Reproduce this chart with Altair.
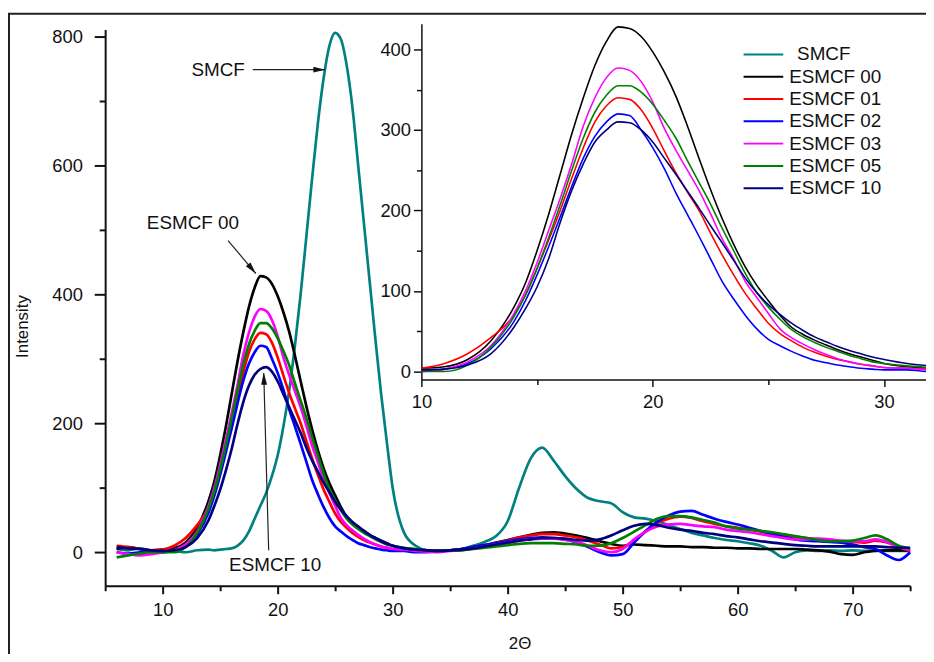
import altair as alt
import pandas as pd

FONT = "Liberation Sans"

SERIES = ["SMCF", "ESMCF 00", "ESMCF 01", "ESMCF 02", "ESMCF 03", "ESMCF 05", "ESMCF 10"]
COLORS = ["#008080", "#000000", "#ff0000", "#0000ff", "#ff00ff", "#008000", "#000080"]

TWO_THETA = [6, 7, 8, 9, 10, 11, 12, 13, 14,
             14.5, 15, 15.5, 16, 16.5, 17, 17.5, 18, 18.5, 19, 19.5, 20, 20.5, 21, 21.5, 22, 22.5,
             23, 23.5, 24, 24.5, 25, 25.5, 26, 26.5, 27, 27.5, 28, 28.5, 29, 29.5, 30,
             31, 32, 33, 34, 35, 36, 37, 38, 39, 40, 41, 42, 43, 44, 45, 46, 47, 48, 49, 50,
             51, 52, 53, 54, 55, 56, 57, 58, 59, 60, 61, 62, 63, 64, 65, 66, 67, 68, 69, 70,
             71, 72, 73, 74, 75]

SMCF = [5, 3, 6, 2, 0, 2, 0, 3, 4,
        3, 4, 5, 6, 10, 18, 32, 52, 72, 92, 118, 150, 195, 250, 320, 400, 490,
        580, 665, 735, 785, 805, 795, 755, 690, 600, 510, 420, 330, 245, 170, 100,
        30, 10, 3, 2, 3, 5, 10, 16, 25, 48, 100, 145, 162, 142, 118, 98, 84, 79, 76, 62,
        54, 52, 48, 42, 36, 30, 26, 22, 19, 17, 14, 10, 2, -8, 0, 3, 2, 3, 2, 3,
        2, 3, 2, 2, 2]

ESMCF_00 = [5, 8, 5, 3, 4, 6, 15, 38, 80,
            110, 150, 195, 245, 295, 340, 380, 410, 428, 426, 416, 397, 372, 342, 305, 265, 226,
            190, 158, 130, 107, 88, 70, 55, 46, 39, 33, 27, 22, 18, 14, 10,
            6, 4, 3, 2, 3, 5, 8, 11, 15, 19, 23, 27, 30, 31, 29, 26, 22, 17, 13, 10,
            12, 11, 10, 9, 9, 8, 8, 7, 7, 6, 6, 5, 5, 5, 5, 4, 3, 1, -3, -4,
            0, 2, 3, 3, 3]

ESMCF_01 = [10, 8, 5, 3, 4, 10, 22, 42, 70,
            95, 128, 163, 200, 240, 278, 310, 330, 340, 338, 325, 302, 274, 247, 223, 200, 172,
            145, 120, 97, 78, 60, 47, 38, 30, 24, 19, 15, 12, 9, 7, 5,
            4, 3, 2, 2, 3, 4, 7, 10, 14, 18, 23, 26, 28, 28, 26, 23, 18, 12, 6, 8,
            18, 32, 45, 52, 55, 53, 48, 44, 40, 38, 35, 32, 28, 25, 24, 22, 20, 18, 17, 16,
            15, 18, 15, 8, 2]

ESMCF_02 = [0, -2, 0, 2, 0, 3, 10, 28, 62,
            88, 120, 155, 192, 230, 265, 292, 310, 320, 318, 300, 278, 252, 222, 195, 168, 140,
            112, 90, 70, 53, 40, 32, 25, 19, 14, 11, 8, 6, 4, 3, 2,
            2, 0, 0, 2, 3, 5, 8, 11, 14, 17, 20, 22, 23, 22, 20, 15, 8, 0, -5, -3,
            15, 33, 47, 57, 63, 64, 58, 52, 47, 43, 38, 33, 28, 24, 20, 18, 17, 16, 15, 12,
            8, 5, -5, -12, 0]

ESMCF_03 = [0, -3, -5, -3, 0, 3, 12, 32, 72,
            100, 135, 175, 215, 258, 305, 340, 365, 377, 374, 360, 335, 302, 275, 250, 225, 196,
            165, 140, 112, 92, 72, 53, 42, 34, 27, 21, 16, 12, 9, 7, 5,
            4, 2, 1, 0, 2, 3, 6, 9, 12, 15, 18, 20, 21, 21, 19, 16, 10, 3, 0, 5,
            20, 32, 40, 43, 44, 42, 40, 39, 35, 33, 31, 28, 25, 22, 20, 20, 21, 20, 18, 17,
            17, 20, 16, 8, 4]

ESMCF_05 = [-8, -5, -2, 0, 0, 0, 8, 30, 68,
            95, 128, 166, 207, 250, 290, 322, 343, 355, 355, 347, 332, 312, 290, 262, 235, 208,
            178, 150, 122, 98, 80, 65, 52, 43, 36, 30, 25, 20, 16, 12, 10,
            7, 5, 3, 2, 3, 3, 5, 7, 9, 11, 13, 14, 14, 14, 13, 12, 10, 10, 14, 22,
            32, 42, 52, 56, 56, 54, 50, 46, 40, 37, 35, 33, 31, 28, 25, 22, 19, 17, 17, 18,
            22, 26, 20, 10, 6]

ESMCF_10 = [8, 6, 5, 3, 2, 3, 8, 22, 50,
            72, 97, 127, 160, 198, 232, 258, 275, 284, 287, 280, 265, 245, 225, 205, 185, 162,
            142, 125, 108, 93, 78, 66, 56, 47, 40, 33, 27, 22, 17, 13, 10,
            6, 4, 3, 2, 3, 4, 6, 9, 12, 15, 18, 20, 22, 22, 21, 19, 18, 20, 26, 34,
            41, 44, 42, 38, 35, 33, 30, 28, 25, 23, 20, 17, 15, 13, 11, 10, 9, 9, 9, 9,
            9, 9, 8, 7, 7]

# the inset shows ESMCF 10 a little higher than the main panel does
INSET_TWO_THETA = [10, 11, 12, 13, 14,
                   14.5, 15, 15.5, 16, 16.5, 17, 17.5, 18, 18.5, 19, 19.5, 20, 20.5, 21, 21.5, 22, 22.5,
                   23, 23.5, 24, 24.5, 25, 25.5, 26, 26.5, 27, 27.5, 28, 28.5, 29, 29.5, 30,
                   31, 32, 33, 34]
INSET_ESMCF_10 = [2, 3, 8, 22, 55,
                  78, 105, 140, 185, 225, 258, 285, 300, 310, 309, 300, 285, 265, 245, 224, 203, 181,
                  160, 138, 116, 98, 83, 71, 60, 51, 43, 37, 31, 26, 22, 18, 15,
                  10, 7, 5, 3]

LEGEND_INDENT = [8, 0, 0, 0, 0, 0, 0]

ANNOT_TEXT = ["SMCF", "ESMCF 00", "ESMCF 10"]
ANNOT_X = [14.83, 12.63, 19.78]
ANNOT_Y = [748, 510, -20]

ARROW_X0 = [17.84, 15.69, 19.22]
ARROW_Y0 = [748, 483, 3]
ARROW_X1 = [24.14, 18.10, 18.79]
ARROW_Y1 = [748, 432, 278]
ARROW_ANGLE = [0, 50, 268]

# ---------- tables ----------
main_values = [SMCF, ESMCF_00, ESMCF_01, ESMCF_02, ESMCF_03, ESMCF_05, ESMCF_10]
rows = []
for name, vals in zip(SERIES, main_values):
    for x, y in zip(TWO_THETA, vals):
        rows.append({"series": name, "two_theta": x, "intensity": y})
df_main = pd.DataFrame(rows)

rows = []
for name, vals in zip(SERIES[1:6], main_values[1:6]):
    for x, y in zip(TWO_THETA, vals):
        if 10 <= x <= 34:
            rows.append({"series": name, "two_theta": x, "intensity": y})
for x, y in zip(INSET_TWO_THETA, INSET_ESMCF_10):
    rows.append({"series": "ESMCF 10", "two_theta": x, "intensity": y})
df_inset = pd.DataFrame(rows)

df_annot = pd.DataFrame({"label": ANNOT_TEXT, "two_theta": ANNOT_X, "intensity": ANNOT_Y})
df_arrow = pd.DataFrame({"two_theta": ARROW_X0, "intensity": ARROW_Y0,
                         "two_theta_end": ARROW_X1, "intensity_end": ARROW_Y1,
                         "angle": ARROW_ANGLE})
df_legend = pd.DataFrame({"series": SERIES, "indent": LEGEND_INDENT})

color = alt.Color("series:N", scale=alt.Scale(domain=SERIES, range=COLORS), legend=None)

# ---------- main panel ----------
x_scale_main = alt.Scale(domain=[5, 75], nice=False, zero=False)
y_scale_main = alt.Scale(domain=[-52, 810], nice=False, zero=False)

x_main = alt.X(
    "two_theta:Q", scale=x_scale_main,
    axis=alt.Axis(
        orient="bottom", values=list(range(5, 76, 5)), title="2Θ",
        labelExpr="datum.value % 10 === 0 ? datum.label : ''",
        tickSize={"condition": {"test": "datum.value % 10 !== 0", "value": 5}, "value": 8},
        tickWidth=2, domainWidth=2, labelFontSize=18.5, labelPadding=7,
        labelFlush=False, labelOverlap=False,
        titleFontSize=17, titleFontWeight="normal", titleX=418, titleY=50,
    ),
)
y_main = alt.Y(
    "intensity:Q", scale=y_scale_main,
    axis=alt.Axis(
        orient="left", values=list(range(0, 801, 100)), title="Intensity",
        labelExpr="datum.value % 200 === 0 ? datum.label : ''",
        tickSize={"condition": {"test": "datum.value % 200 !== 0", "value": 6}, "value": 11},
        tickWidth=2, domainWidth=2, labelFontSize=18.5, labelPadding=12,
        labelFlush=False, labelOverlap=False,
        titleFontSize=17, titleFontWeight="normal", titleX=-74, titleY=299,
    ),
)

main_lines = alt.Chart(df_main).mark_line(strokeWidth=2.7, interpolate="monotone").encode(
    x=x_main, y=y_main, color=color
)
annot_text = alt.Chart(df_annot).mark_text(
    fontSize=19, font=FONT, color="#111", align="center", baseline="middle"
).encode(x=alt.X("two_theta:Q"), y=alt.Y("intensity:Q"), text="label:N")
arrow_lines = alt.Chart(df_arrow).mark_rule(color="#222", strokeWidth=1.2).encode(
    x=alt.X("two_theta:Q"), y=alt.Y("intensity:Q"),
    x2="two_theta_end:Q", y2="intensity_end:Q",
)
arrow_heads = alt.Chart(df_arrow).mark_point(
    shape="M0,0L-2,-0.5L-2,0.5Z", filled=True, size=144, color="#111", opacity=1
).encode(
    x=alt.X("two_theta_end:Q"), y=alt.Y("intensity_end:Q"),
    angle=alt.Angle("angle:Q", scale=None),
)
main_panel = alt.layer(main_lines, arrow_lines, arrow_heads, annot_text)

# ---------- inset ----------
x_inset = alt.X(
    "two_theta:Q",
    scale=alt.Scale(domain=[10, 34], range=[319, 879], nice=False, zero=False),
    axis=alt.Axis(
        orient="bottom", offset=-208, values=[10, 15, 20, 25, 30], title=None,
        labelExpr="datum.value % 10 === 0 ? datum.label : ''",
        tickSize={"condition": {"test": "datum.value % 10 !== 0", "value": 5}, "value": 7},
        tickWidth=1.5, domainWidth=1.5, labelFontSize=18.5, labelPadding=6,
        labelFlush=False, labelOverlap=False,
    ),
)
y_inset = alt.Y(
    "intensity:Q",
    scale=alt.Scale(domain=[-10, 432], range=[353, -6], nice=False, zero=False),
    axis=alt.Axis(
        orient="left", offset=-319, values=list(range(0, 401, 50)), title=None,
        labelExpr="datum.value % 100 === 0 ? datum.label : ''",
        tickSize={"condition": {"test": "datum.value % 100 !== 0", "value": 5}, "value": 8},
        tickWidth=1.5, domainWidth=1.5, labelFontSize=18.5, labelPadding=3,
        labelFlush=False, labelOverlap=False,
    ),
)
inset_lines = alt.Chart(df_inset).mark_line(strokeWidth=1.6, interpolate="monotone").encode(
    x=x_inset, y=y_inset, color=color
)

# ---------- legend (inside inset) ----------
leg_y = alt.Y("series:N", sort=SERIES,
              scale=alt.Scale(type="point", domain=SERIES, range=[25, 160], padding=0),
              axis=None)
legend_rules = alt.Chart(df_legend).mark_rule(strokeWidth=2).encode(
    x=alt.value(644), x2=alt.value(684), y=leg_y, color=color
)
legend_text = alt.Chart(df_legend).mark_text(
    align="left", baseline="middle", fontSize=19, font=FONT, color="#111"
).encode(
    x=alt.X("indent:Q", scale=alt.Scale(domain=[0, 100], range=[690, 790]), axis=None),
    y=leg_y, text="series:N",
)
legend_panel = alt.layer(legend_rules, legend_text)

# ---------- outer frame ----------
frame = alt.Chart(pd.DataFrame({"k": [0]})).mark_rect(
    fillOpacity=0, stroke="#222", strokeWidth=2
).encode(x=alt.value(-97), x2=alt.value(1000), y=alt.value(-16), y2=alt.value(900))

chart = alt.layer(frame, main_panel, inset_lines, legend_panel).resolve_scale(
    x="independent", y="independent"
).properties(
    width=812, height=561,
    padding={"left": 98, "top": 19, "right": 16, "bottom": 66},
    autosize=alt.AutoSizeParams(type="none"),
    background="white",
).configure_view(stroke=None).configure_axis(
    labelFont=FONT, titleFont=FONT, labelColor="#111", titleColor="#111",
    domainColor="#111", tickColor="#111", grid=False,
)

chart.save("out.html", embed_options={"renderer": "svg", "actions": False})
